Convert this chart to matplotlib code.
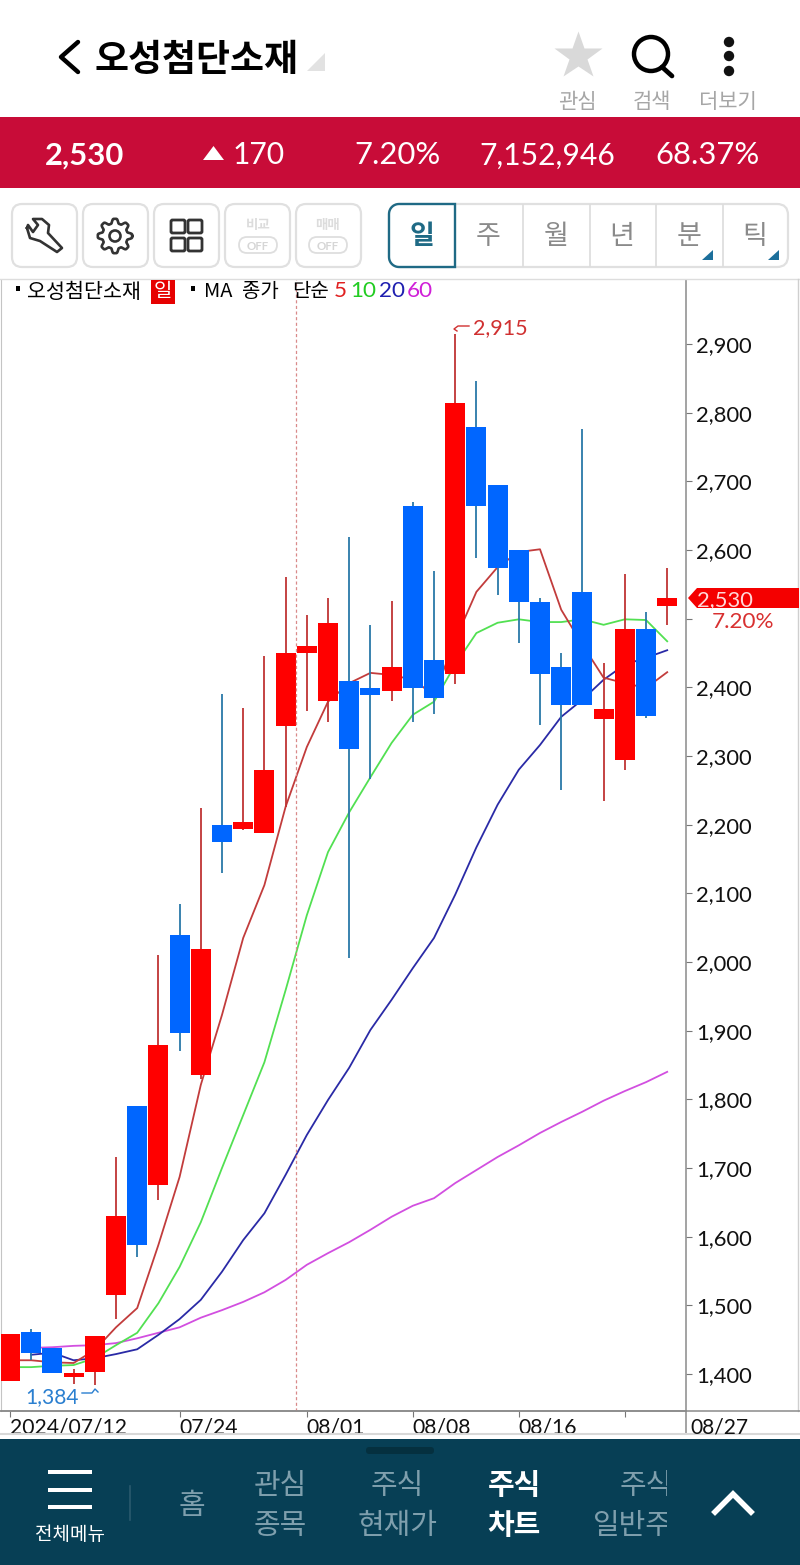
import numpy as np
import matplotlib
matplotlib.use("Agg")
import matplotlib.pyplot as plt
from matplotlib.patches import Rectangle, FancyBboxPatch, Polygon, Circle

KR = ["Noto Sans CJK KR", "DejaVu Sans"]
NUM = ["Lato", "DejaVu Sans"]
plt.rcParams["font.family"] = KR

# daily candles
opens = [1390, 1461, 1438, 1396, 1403, 1515, 1790, 1675, 2039, 1835, 2200, 2194, 2188, 2344, 2450, 2380,
         2409, 2399, 2395, 2664, 2440, 2419, 2779, 2695, 2600, 2524, 2430, 2539, 2354, 2294, 2485, 2518]
highs = [1458, 1465, 1438, 1408, 1455, 1716, 1790, 2010, 2084, 2224, 2390, 2370, 2446, 2561, 2505, 2530,
         2619, 2491, 2526, 2670, 2569, 2915, 2846, 2695, 2600, 2530, 2450, 2776, 2435, 2565, 2510, 2574]
lows = [1390, 1420, 1401, 1385, 1384, 1480, 1570, 1653, 1870, 1830, 2130, 2192, 2188, 2226, 2365, 2350,
        2006, 2266, 2380, 2350, 2361, 2405, 2588, 2534, 2465, 2345, 2250, 2374, 2234, 2280, 2355, 2490]
closes = [1458, 1431, 1401, 1402, 1455, 1630, 1588, 1879, 1897, 2019, 2175, 2204, 2280, 2450, 2460, 2494,
          2310, 2389, 2430, 2399, 2384, 2814, 2664, 2574, 2524, 2419, 2374, 2374, 2368, 2485, 2358, 2530]

ma5 = [1420, 1420, 1417, 1416, 1435, 1468, 1496, 1588, 1687, 1821, 1923, 2035, 2112, 2226, 2313, 2379,
       2406, 2421, 2418, 2411, 2389, 2469, 2539, 2575, 2597, 2601, 2513, 2462, 2414, 2406, 2399, 2422]
ma10 = [1410, 1410, 1412, 1413, 1423, 1442, 1460, 1503, 1556, 1621, 1700, 1777, 1854, 1959, 2068, 2160,
        2218, 2269, 2319, 2360, 2379, 2433, 2479, 2494, 2499, 2495, 2495, 2499, 2491, 2499, 2498, 2467]
ma20 = [np.nan, 1428, 1431, 1420, 1423, 1429, 1436, 1457, 1480, 1508, 1549, 1595, 1634, 1690, 1748, 1799,
        1846, 1901, 1945, 1991, 2035, 2098, 2167, 2229, 2280, 2316, 2357, 2382, 2411, 2433, 2443, 2454]
ma60 = [np.nan, 1438, 1439, 1441, 1442, 1445, 1452, 1460, 1468, 1482, 1493, 1505, 1519, 1537, 1559, 1576,
        1592, 1610, 1629, 1645, 1656, 1678, 1697, 1716, 1733, 1751, 1767, 1782, 1798, 1812, 1825, 1840]

price_ticks = [1400, 1500, 1600, 1700, 1800, 1900, 2000, 2100, 2200, 2300, 2400, 2500, 2600, 2700, 2800, 2900]
# the 2,500 label is hidden behind the last-price tag in the app
price_labels = ["1,400", "1,500", "1,600", "1,700", "1,800", "1,900", "2,000", "2,100", "2,200", "2,300",
                "2,400", "", "2,600", "2,700", "2,800", "2,900"]
date_ticks = [0, 8, 14, 19, 24, 29]
date_labels = ["2024/07/12", "07/24", "08/01", "08/08", "08/16", ""]

W, H = 800, 1565
RED, BLUE = "#ff0000", "#0066ff"
fig = plt.figure(figsize=(W / 100, H / 100), dpi=100, facecolor="white")

# chart area, pixel box 1..686 x 280..1411
L, R, T, B = 1, 686, 280, 1411
ax = fig.add_axes([L / W, 1 - B / H, (R - L) / W, (B - T) / H])
ax.set_xlim((L - 10) / 21.2, (R - 10) / 21.2)
ax.set_ylim(1400 - (B - 1374) / 0.6867, 1400 + (1374 - T) / 0.6867)

x = np.arange(len(opens))
ax.plot(x, ma60, color="#d24fe0", lw=1.3, zorder=2)
ax.plot(x, ma20, color="#2a2aa6", lw=1.3, zorder=2)
ax.plot(x, ma10, color="#52e052", lw=1.3, zorder=2)
ax.plot(x, ma5, color="#c23c3c", lw=1.3, zorder=2)

for i in x:
    up = closes[i] >= opens[i]
    ax.vlines(i, lows[i], highs[i], color="#bf3434" if up else "#2a78a8", lw=1.3, zorder=3)
    ax.bar(i, abs(closes[i] - opens[i]), bottom=min(opens[i], closes[i]), width=0.94,
           color=RED if up else BLUE, zorder=4, linewidth=0)

ax.axvline(13.5, ymin=0, ymax=1, color="#d98a8a", lw=0.9, ls=(0, (2.5, 2)), zorder=5)

ax.set_yticks(price_ticks, price_labels)
ax.yaxis.tick_right()
ax.tick_params(axis="y", length=4, width=0.8, color="#777777", pad=3.5, labelsize=15.8, labelcolor="#111111")
ax.set_xticks(date_ticks, date_labels)
ax.tick_params(axis="x", length=4, width=0.8, color="#777777", pad=1, labelsize=15.2, labelcolor="#111111")
for t in ax.get_yticklabels() + ax.get_xticklabels():
    t.set_family(NUM)
for t in ax.get_xticklabels():
    t.set_ha("left")
ax.spines[["top"]].set_visible(False)
ax.spines[["left"]].set_color("#c4c4c4")
ax.spines[["right", "bottom"]].set_color("#8a8a8a")
ax.spines[["right", "bottom"]].set_linewidth(1.1)

# everything around the chart, in screen pixels
ui = fig.add_axes([0, 0, 1, 1], facecolor="none")
ui.set_xlim(0, W)
ui.set_ylim(H, 0)
ui.axis("off")


def txt(px, py, s, size, color="black", ha="center", family=KR, weight="normal", **kw):
    return ui.text(px, py, s, fontsize=size * 0.72, color=color, ha=ha, va="center_baseline",
                   family=family, fontweight=weight, **kw)


def rbox(x0, y0, x1, y1, rad, fc="white", ec="#e0e0e0", lw=1.6, z=1):
    ui.add_patch(FancyBboxPatch((x0 + rad, y0 + rad), x1 - x0 - 2 * rad, y1 - y0 - 2 * rad,
                                boxstyle=f"round,pad={rad}", fc=fc, ec=ec, lw=lw, zorder=z))


# header
ui.plot([78, 61, 78], [42, 57, 72], color="black", lw=3.2, solid_capstyle="round", solid_joinstyle="round")
txt(95, 56, "오성첨단소재", 37, ha="left", weight="bold")
ui.add_patch(Polygon([(325, 53), (325, 71), (307, 71)], fc="#e2e2e2", ec="none"))
ui.plot([578], [56], marker="*", ms=36, color="#d9d9d9", mec="none")
ui.add_patch(Circle((651, 54), 17, fc="none", ec="black", lw=3.2))
ui.plot([662, 672], [67, 76], color="black", lw=3.4, solid_capstyle="round")
for dy in [42, 56, 71]:
    ui.add_patch(Circle((729, dy), 5.2, fc="#111111", ec="none"))
for cx, s in zip([577, 652, 728], ["관심", "검색", "더보기"]):
    txt(cx, 99, s, 21, color="#a6a6a6")

# price strip
ui.add_patch(Rectangle((0, 117), W, 71, fc="#c80c38", ec="none"))
txt(45, 153, "2,530", 31, color="white", ha="left", family=NUM, weight="bold")
ui.add_patch(Polygon([(203, 160), (224, 160), (213.5, 146)], fc="white", ec="none"))
txt(233, 153, "170", 30, color="white", ha="left", family=NUM)
txt(354, 153, "7.20%", 31, color="white", ha="left", family=NUM)
txt(479, 153, "7,152,946", 30, color="white", ha="left", family=NUM)
txt(655, 153, "68.37%", 31, color="white", ha="left", family=NUM)

# toolbar buttons
for x0 in [12, 83, 154, 225, 296]:
    rbox(x0, 204, x0 + 65, 267, 10)
wrench = [(27, 228), (30, 238), (40, 241), (57, 252), (62, 248), (48, 233), (49, 225), (42, 219), (33, 219),
          (38, 225), (33, 232), (28, 225), (27, 228)]
ui.plot(*zip(*wrench), color="#333333", lw=1.9, solid_joinstyle="round")
ang = np.linspace(0, 2 * np.pi, 145)
rad = 15 + 2.2 * np.clip(1.6 * np.cos(8 * ang), -1, 1)
ui.plot(115 + rad * np.cos(ang), 236 + rad * np.sin(ang), color="#333333", lw=1.9)
ui.add_patch(Circle((115, 236), 5.5, fc="none", ec="#333333", lw=1.9))
for gx in [171, 188]:
    for gy in [220, 238]:
        rbox(gx, gy, gx + 14, gy + 13, 1.5, fc="white", ec="#333333", lw=2, z=2)
for cx, s in zip([258, 328], ["비교", "매매"]):
    txt(cx, 224, s, 13.5, color="#dcdcdc", weight="bold")
    rbox(cx - 19, 237, cx + 19, 253, 8, ec="#dedede", lw=1.3, z=2)
    txt(cx, 245.5, "OFF", 11.5, color="#d6d6d6", family=NUM, weight="bold", zorder=3)

# period tabs
rbox(389, 204, 788, 267, 11)
for dx in [523, 590, 656, 723]:
    ui.plot([dx, dx], [205, 266], color="#dcdcdc", lw=1.2, zorder=2)
arc = np.linspace(0, np.pi / 2, 12)
tab = ([(455, 204)] + [(399 - 10 * np.sin(a), 214 - 10 * np.cos(a)) for a in arc]
       + [(399 - 10 * np.cos(a), 257 + 10 * np.sin(a)) for a in arc] + [(455, 267)])
ui.add_patch(Polygon(tab, closed=True, fc="white", ec="#1f6a85", lw=1.7, zorder=3))
txt(422, 233, "일", 27, color="#1f6a85", weight="bold", zorder=5)
for cx, s in zip([488, 556, 622, 689, 755], ["주", "월", "년", "분", "틱"]):
    txt(cx, 233, s, 27, color="#8a8a8a", zorder=5)
for tx in [702, 768]:
    ui.add_patch(Polygon([(tx + 11, 250), (tx + 11, 260), (tx, 260)], fc="#1c6f9b", ec="none", zorder=5))

# chart frame and legend
ui.plot([0, W], [279, 279], color="#dddddd", lw=1)
ui.plot([798, 798], [279, 1411], color="#cfcfcf", lw=1)
ui.plot([0, W], [1411, 1411], color="#8a8a8a", lw=1.1)
ui.plot([686, 686], [1411, 1434], color="#8a8a8a", lw=1.1)
ui.plot([0, W], [1434, 1434], color="#d8d8d8", lw=1.5)
ui.add_patch(Rectangle((16, 286), 4, 5, fc="black", ec="none", zorder=6))
txt(27, 289, "오성첨단소재", 20.6, ha="left", zorder=6)
ui.add_patch(Rectangle((151, 280), 24, 24, fc="#e60000", ec="none", zorder=6))
txt(163, 289, "일", 20, color="white", zorder=7)
ui.add_patch(Rectangle((191, 286), 4, 5, fc="black", ec="none", zorder=6))
for lx, s in zip([204, 242, 292], ["MA", "종가", "단순"]):
    txt(lx, 289, s, 20, ha="left", zorder=6)
for lx, s, c in zip([334, 350, 379, 407], ["5", "10", "20", "60"], ["#e02020", "#22cc22", "#2020b0", "#d020d8"]):
    txt(lx, 289, s, 22.5, color=c, ha="left", zorder=6, family=NUM)

# high / low marks
ui.plot([469, 458, 454, 457], [326, 326, 329, 331], color="#d03030", lw=1, zorder=6)
txt(473, 326, "2,915", 21.5, color="#d03030", ha="left", family=NUM)
ui.plot([82, 92, 95, 98], [1393, 1393, 1389, 1392], color="#2a7fd0", lw=1, zorder=6)
txt(25, 1395, "1,384", 21, color="#2a7fd0", ha="left", family=NUM)

# last price tag
ui.add_patch(Polygon([(688, 598), (697, 588), (799, 588), (799, 608), (697, 608)], fc="#f40000", ec="none", zorder=6))
txt(697, 598, "2,530", 22, color="#ffd8d8", ha="left", family=NUM, zorder=7)
txt(712, 620, "7.20%", 22.5, color="#d83030", ha="left", family=NUM, zorder=7)
txt(690, 1425, "08/27", 21, color="#111111", ha="left", family=NUM)

# bottom nav
ui.add_patch(Rectangle((0, 1439), W, H - 1439, fc="#073f55", ec="none"))
rbox(366, 1447, 434, 1454, 3, fc="#05303f", ec="none", lw=0, z=2)
for ny in [1472, 1490, 1507]:
    ui.add_patch(Rectangle((48, ny - 2), 44, 4, fc="white", ec="none", zorder=2))
txt(70, 1532, "전체메뉴", 19, color="white")
ui.plot([130, 130], [1486, 1520], color="#2a5a6e", lw=1.2)
NAV = "#7f9fad"
txt(192, 1502, "홈", 29, color=NAV)
txt(280, 1482, "관심", 29, color=NAV)
txt(280, 1522, "종목", 29, color=NAV)
txt(397, 1482, "주식", 29, color=NAV)
txt(397, 1522, "현재가", 29, color=NAV)
txt(514, 1482, "주식", 29, color="white", weight="bold")
txt(514, 1522, "차트", 29, color="white", weight="bold")
clip = Rectangle((560, 1440), 107, 125, transform=ui.transData)
for py, s in [(1482, "주식"), (1522, "일반주문")]:
    t = txt(646, py, s, 29, color=NAV)
    t.set_clip_path(clip)
    t.set_clip_on(True)
ui.plot([715, 733, 751], [1512, 1494, 1512], color="white", lw=4, solid_joinstyle="miter")

fig.savefig("out.png", dpi=100)
